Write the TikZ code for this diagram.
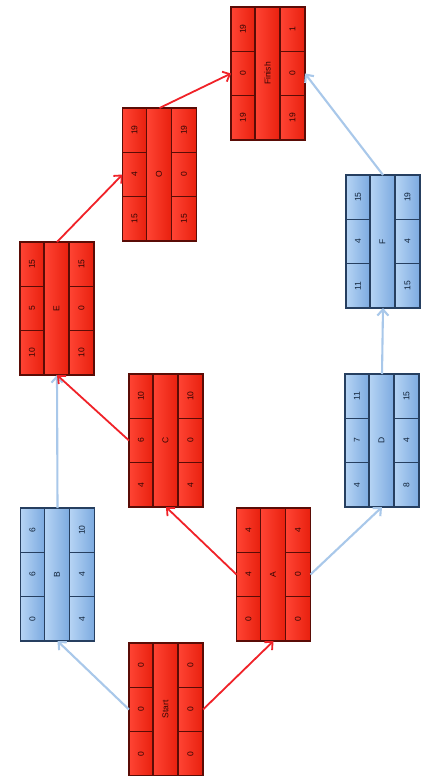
\documentclass[tikz,border=0pt]{standalone}
\usepackage{fontspec}
\setmainfont{Liberation Sans}
\usetikzlibrary{arrows.meta}
\definecolor{redA}{HTML}{FF4434}
\definecolor{redB}{HTML}{E8200E}
\definecolor{redE}{HTML}{5A0C06}
\definecolor{redT}{HTML}{300604}
\definecolor{bluA}{HTML}{B6D4F4}
\definecolor{bluB}{HTML}{7CAAE0}
\definecolor{bluE}{HTML}{263F60}
\definecolor{bluT}{HTML}{102238}
\definecolor{redL}{HTML}{F02228}
\definecolor{bluL}{HTML}{A9C8EA}
\tikzset{
  actbox/.style={draw=none,minimum width=74pt,minimum height=133pt,inner sep=0pt,outer sep=0pt},
  numtext/.style={rotate=90,inner sep=0pt,font=\fontsize{8.5}{10}\selectfont,text=#1T},
  redline/.style={draw=redL,line width=1.8pt,-{Straight Barb[length=6pt,width=11pt]}},
  bluline/.style={draw=bluL,line width=2.1pt,-{Straight Barb[length=6pt,width=11pt]}}
}
\def\parsetriple#1/#2/#3\relax#4{\expandafter\def\csname #4a\endcsname{#1}\expandafter\def\csname #4b\endcsname{#2}\expandafter\def\csname #4c\endcsname{#3}}
% #1 name, #2 center, #3 kind (red|blu), #4 label, #5 ES/Dur/EF, #6 LS/Slack/LF
\newcommand\actnode[6]{%
  \parsetriple#5\relax{lft}%
  \parsetriple#6\relax{rgt}%
  \node[actbox] (#1) at #2 {};
  \begin{scope}[shift={(#1.center)}]
    \shade[left color=#3A,right color=#3B] (-37,-66.5) rectangle (-13,66.5);
    \shade[left color=#3A,right color=#3B] (-13,-66.5) rectangle (12,66.5);
    \shade[left color=#3A,right color=#3B] (12,-66.5) rectangle (37,66.5);
    \draw[#3E,line width=1.1pt] (-37,-66.5) rectangle (37,66.5)
      (-13,-66.5) -- (-13,66.5) (12,-66.5) -- (12,66.5)
      (-37,-22.17) -- (-13,-22.17) (-37,22.17) -- (-13,22.17)
      (12,-22.17) -- (37,-22.17) (12,22.17) -- (37,22.17);
    \node[numtext=#3] at (-25,44.33) {\lfta};
    \node[numtext=#3] at (-25,0) {\lftb};
    \node[numtext=#3] at (-25,-44.33) {\lftc};
    \node[numtext=#3] at (24.5,44.33) {\rgta};
    \node[numtext=#3] at (24.5,0) {\rgtb};
    \node[numtext=#3] at (24.5,-44.33) {\rgtc};
    \node[numtext=#3] at (-0.5,0) {#4};
  \end{scope}}
\begin{document}
\begin{tikzpicture}[x=1pt,y=-1pt]
\fill[white] (0,0) rectangle (423,776);
\useasboundingbox (0,0) rectangle (423,776);
\actnode{Start}{(166,709.5)}{red}{Start}{0/0/0}{0/0/0}
\actnode{B}{(57.5,574.5)}{blu}{B}{0/6/6}{4/4/10}
\actnode{A}{(273.5,574.5)}{red}{A}{0/4/4}{0/0/4}
\actnode{C}{(166,440.5)}{red}{C}{4/6/10}{4/0/10}
\actnode{D}{(382,440.5)}{blu}{D}{4/7/11}{8/4/15}
\actnode{E}{(57,308.5)}{red}{E}{10/5/15}{10/0/15}
\actnode{F}{(383,241.5)}{blu}{F}{11/4/15}{15/4/19}
\actnode{O}{(159.5,174.5)}{red}{O}{15/4/19}{15/0/19}
\actnode{Finish}{(268,73.5)}{red}{Finish}{19/0/19}{19/0/1}
\draw[bluline] (Start.west) -- (B.south);
\draw[redline] (Start.east) -- (A.south);
\draw[redline] (A.west) -- (C.south);
\draw[bluline] (A.east) -- (D.south);
\draw[bluline] (B.north) -- (E.south);
\draw[redline] (C.west) -- (E.south);
\draw[bluline] (D.north) -- (F.south);
\draw[redline] (E.north) -- (O.west);
\draw[redline] (O.north) -- (Finish.west);
\draw[bluline] (F.north) -- (Finish.east);
\end{tikzpicture}
\end{document}
